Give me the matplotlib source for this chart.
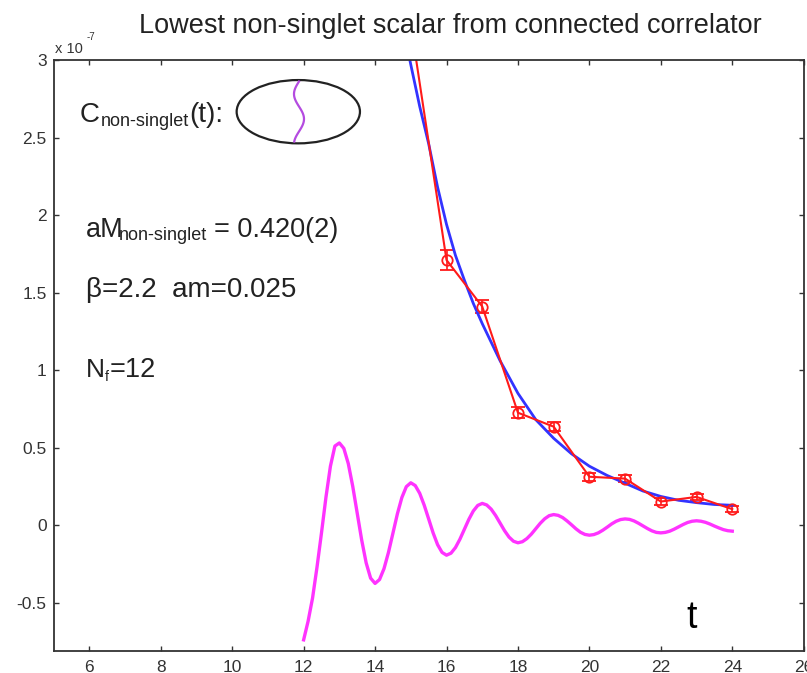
import numpy as np
import matplotlib
matplotlib.use("Agg")
import matplotlib.pyplot as plt
from matplotlib.patches import Ellipse
from matplotlib.lines import Line2D

# --- data (in units of 1e-7) ---
t_corr = [15, 16, 17, 18, 19, 20, 21, 22, 23, 24]
c_corr = [3.23, 1.71, 1.41, 0.725, 0.635, 0.312, 0.30, 0.152, 0.182, 0.103]
c_err = [0.06, 0.065, 0.04, 0.035, 0.03, 0.025, 0.025, 0.02, 0.02, 0.02]

# fitted (non-oscillating) part
t_fit = [14.75, 15.0, 15.25, 15.5, 15.75, 16.0, 16.25, 16.5, 16.75, 17.0,
         17.5, 18.0, 18.5, 19.0, 19.5, 20.0, 20.5, 21.0, 21.5, 22.0,
         22.5, 23.0, 23.5, 24.0]
c_fit = [3.25, 2.97, 2.70, 2.46, 2.18, 1.94, 1.74, 1.58, 1.43, 1.30,
         1.06, 0.85, 0.68, 0.56, 0.46, 0.38, 0.32, 0.27, 0.22, 0.185,
         0.16, 0.145, 0.133, 0.128]

# oscillating part, read every 1/8 in t from 12 to 24
t_osc = np.linspace(12, 24, 97)
c_osc = [-0.74, -0.62, -0.47, -0.27, -0.05, 0.18, 0.38, 0.51,
         0.53, 0.495, 0.397, 0.25, 0.077, -0.096, -0.243, -0.342,
         -0.376, -0.351, -0.281, -0.176, -0.052, 0.073, 0.178, 0.248,
         0.273, 0.255, 0.205, 0.129, 0.04, -0.05, -0.126, -0.176,
         -0.194, -0.181, -0.145, -0.091, -0.027, 0.037, 0.091, 0.127,
         0.14, 0.13, 0.103, 0.062, 0.013, -0.036, -0.077, -0.104,
         -0.114, -0.107, -0.087, -0.058, -0.023, 0.012, 0.041, 0.061,
         0.068, 0.063, 0.049, 0.027, 0.002, -0.024, -0.046, -0.06,
         -0.065, -0.061, -0.05, -0.033, -0.013, 0.008, 0.025, 0.036,
         0.04, 0.037, 0.027, 0.012, -0.005, -0.022, -0.037, -0.047,
         -0.05, -0.047, -0.039, -0.026, -0.011, 0.004, 0.017, 0.025,
         0.028, 0.025, 0.018, 0.007, -0.006, -0.018, -0.029, -0.036,
         -0.039]

x_ticks = [6, 8, 10, 12, 14, 16, 18, 20, 22, 24, 26]
y_ticks = [-0.5, 0, 0.5, 1, 1.5, 2, 2.5, 3]

plt.rcParams['font.family'] = ['Liberation Sans', 'DejaVu Sans']
plt.rcParams['axes.unicode_minus'] = False

W, H = 807, 673
fig = plt.figure(figsize=(W / 100, H / 100), dpi=100)


def px(x, y):
    # pixel position (from top-left) -> figure fraction
    return x / W, 1 - y / H


ax = fig.add_axes([53.6 / W, 1 - 650.7 / H, 750.1 / W, 590.7 / H])

ax.errorbar(t_corr, c_corr, yerr=c_err, color='#ff1a1a', lw=1.5,
            marker='o', ms=7.5, mfc='none', mew=1.3, capsize=5, elinewidth=1.2)
ax.plot(t_fit, c_fit, color='#3333ff', lw=2)
ax.plot(t_osc, c_osc, color='#ff33ff', lw=2.4)

ax.set_xlim(5, 26)
ax.set_ylim(-0.81, 3)
ax.set_xticks(x_ticks)
ax.set_yticks(y_ticks)
ax.set_yticklabels(['%g' % v for v in y_ticks])
ax.tick_params(direction='in', length=3.6, width=1, top=True, right=True,
               labelsize=12.5, labelcolor='#333333', color='#333333')
ax.tick_params(axis='x', pad=7)
ax.tick_params(axis='y', pad=5)
for s in ax.spines.values():
    s.set_color('#333333')
    s.set_linewidth(1.3)

# title and multiplier
fig.text(*px(450, 33), 'Lowest non-singlet scalar from connected correlator',
         ha='center', va='baseline', fontsize=19.5, color='#222222')
fig.text(*px(55, 53), 'x 10', fontsize=10.5, va='baseline', color='#333333')
fig.text(*px(87, 40), '-7', fontsize=7, va='baseline', color='#333333')

# annotations
tc = '#222222'
fig.text(*px(80, 121.7), 'C', fontsize=20, va='baseline', color=tc)
fig.text(*px(101, 126), 'non-singlet', fontsize=13, va='baseline', color=tc)
fig.text(*px(189, 121.7), '(t):', fontsize=20, va='baseline', color=tc)

fig.text(*px(86, 236.7), 'aM', fontsize=19.5, va='baseline', color=tc)
fig.text(*px(119, 240), 'non-singlet', fontsize=13, va='baseline', color=tc)
fig.text(*px(214, 236.7), '= 0.420(2)', fontsize=19.5, va='baseline', color=tc)

fig.text(*px(86, 296.7), 'β=2.2  am=0.025', fontsize=20, va='baseline', color=tc)

fig.text(*px(86, 376.7), 'N', fontsize=19, va='baseline', color=tc)
fig.text(*px(105, 381), 'f', fontsize=10, va='baseline', color=tc)
fig.text(*px(110, 376.7), '=12', fontsize=19.5, va='baseline', color=tc)

fig.text(*px(686, 628), 't', fontsize=27, va='baseline', color='black')

# diagram of the connected correlator
cx, cy = px(298.3, 111.7)
fig.add_artist(Ellipse((cx, cy), 123.3 / W, 63.3 / H, transform=fig.transFigure,
                       fill=False, ec='#222222', lw=1.6))
s = np.linspace(0, 1, 60)
wx = (299 - 5 * np.sin(2.4 * np.pi * s)) / W
wy = 1 - (81.5 + 60 * s) / H
fig.add_artist(Line2D(wx, wy, transform=fig.transFigure, color='#b44be0', lw=1.6))

fig.savefig('out.png', dpi=100)
